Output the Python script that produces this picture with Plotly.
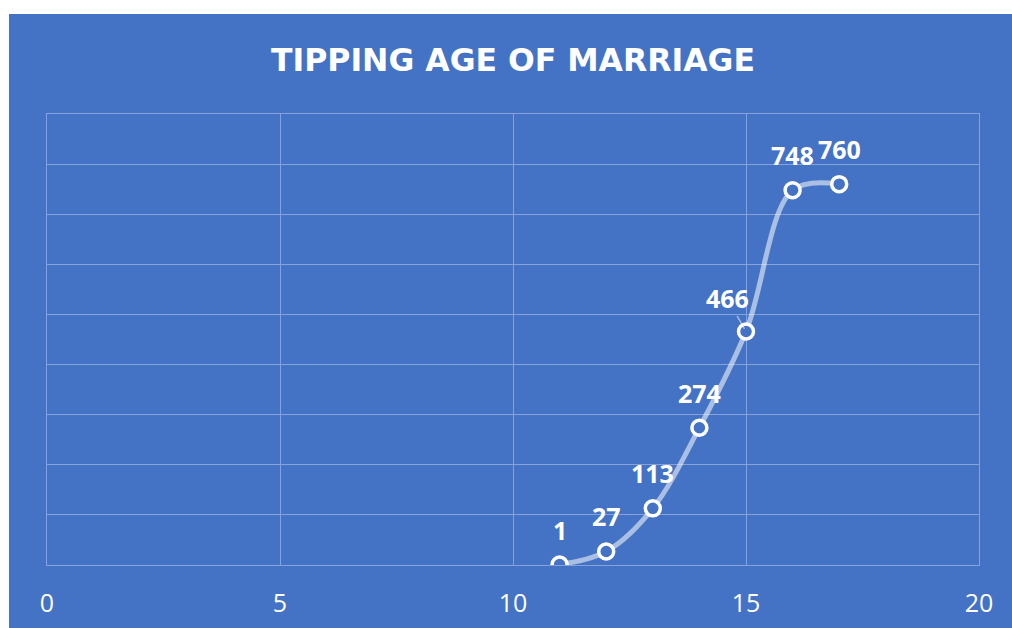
import plotly.graph_objects as go

# Data
ages = [11, 12, 13, 14, 15, 16, 17]
counts = [1, 27, 113, 274, 466, 748, 760]
x_ticks = [0, 5, 10, 15, 20]
title_text = "TIPPING AGE OF MARRIAGE"

BLUE = "#4472C4"
GRID = "#86A2D9"

W, H = 1012, 628
L, R, T, B = 47, 33, 114, 63
pw, ph = W - L - R, H - T - B

fig = go.Figure()
fig.add_trace(go.Scatter(
    x=ages, y=counts, mode="lines+markers",
    line=dict(shape="spline", smoothing=1.0, color="rgba(255,255,255,0.55)", width=5),
    marker=dict(symbol="circle", size=15, color=BLUE, line=dict(color="white", width=3.5)),
    hoverinfo="skip", showlegend=False,
))

# data labels (offsets in px per label)
label_offsets = {466: (-19, 33)}
for xv, yv in zip(ages, counts):
    dx, dy = label_offsets.get(yv, (0, 35))
    if yv in label_offsets:
        fig.add_annotation(x=xv, y=yv, text=f"<b>{yv}</b>", showarrow=True,
                           ax=dx, ay=-dy, arrowhead=0, arrowwidth=1.5,
                           arrowcolor="rgba(255,255,255,0.5)", standoff=3,
                           borderpad=0,
                           font=dict(family="Open Sans", size=25, color="white"))
    else:
        fig.add_annotation(x=xv, y=yv, text=f"<b>{yv}</b>", showarrow=False,
                           xshift=dx, yshift=dy, yanchor="middle",
                           font=dict(family="Open Sans", size=25, color="white"))

# blue chart area background (white strip top & left)
fig.add_shape(type="rect", xref="paper", yref="paper", layer="below",
              x0=(9 - L) / pw, x1=(W + 10 - L) / pw,
              y0=-(B + 10) / ph, y1=(H - B - 14) / ph,
              fillcolor=BLUE, line=dict(width=0))

fig.update_layout(
    width=W, height=H,
    margin=dict(l=L, r=R, t=T, b=B, pad=0, autoexpand=False),
    paper_bgcolor="white", plot_bgcolor="rgba(0,0,0,0)",
    title=dict(text=f"<b>{title_text}</b>", x=0.5, xref="paper", xanchor="center",
               y=1 - 60 / H, yref="container", yanchor="middle",
               font=dict(family="DejaVu Sans", size=31.5, color="white")),
    xaxis=dict(range=[0, 20], tickvals=x_ticks, ticktext=[str(v) for v in x_ticks],
               showgrid=True, gridcolor=GRID, gridwidth=1, zeroline=False,
               showline=True, linecolor=GRID, linewidth=1, mirror=True,
               ticks="", ticklabelstandoff=16, automargin=False,
               tickfont=dict(family="Open Sans", size=25, color="white")),
    yaxis=dict(range=[0, 900], dtick=100, showgrid=True, gridcolor=GRID, gridwidth=1,
               zeroline=False, showticklabels=False, ticks="", automargin=False,
               showline=True, linecolor=GRID, linewidth=1, mirror=True),
)

fig.write_html(
    "out.html",
    config={"displayModeBar": False, "staticPlot": True},
    post_script="document.body.style.margin='0';"
                "document.documentElement.style.overflow='hidden';",
)
